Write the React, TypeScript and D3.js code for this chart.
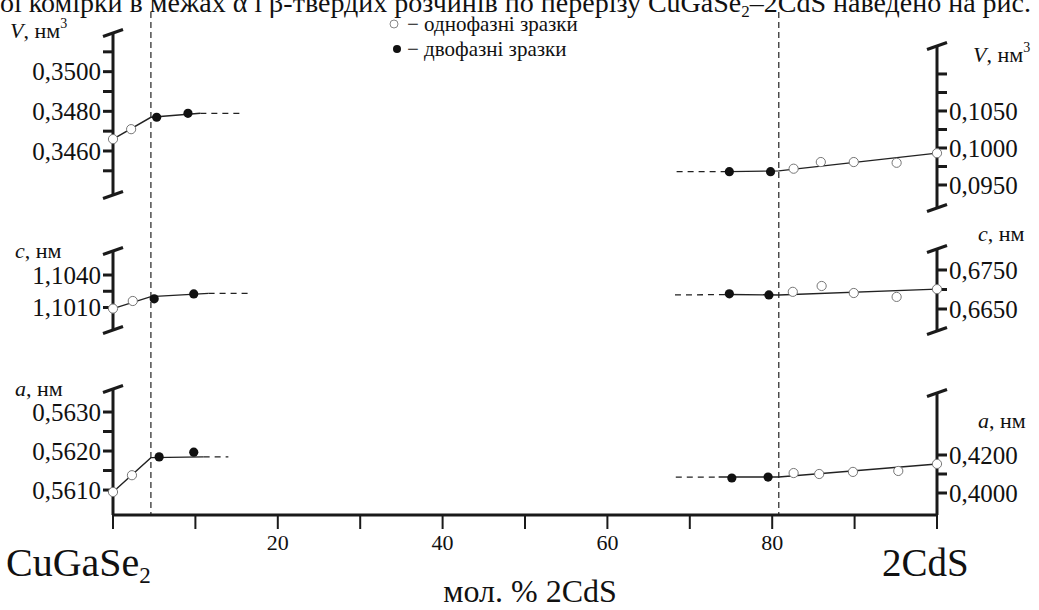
import React from 'react';
import * as d3 from 'd3';

const W = 1039;
const H = 610;

// mol. % 2CdS axis
const molTicks = [0, 10, 20, 30, 40, 50, 60, 70, 80, 90, 100];
const molLabels = [20, 40, 60, 80];
const phaseBounds = [4.6, 80.8];

// V, nm3 - CuGaSe2 side
const vLeftTicks = [0.345, 0.346, 0.347, 0.348, 0.349, 0.35, 0.351];
const vLeftLabels = [0.346, 0.348, 0.35];
const vLeftOneX = [0, 2.2];
const vLeftOneV = [0.3466, 0.3471];
const vLeftTwoX = [5.3, 9.1];
const vLeftTwoV = [0.3477, 0.3479];
const vLeftLineX = [0, 4.6, 10.6];
const vLeftLineV = [0.3466, 0.3477, 0.3479];
const vLeftDashX = [10.6, 15.4];
const vLeftDashV = [0.3479, 0.3479];

// V, nm3 - 2CdS side
const vRightTicks = [0.095, 0.0975, 0.1, 0.1025, 0.105, 0.1075, 0.11];
const vRightLabels = [0.095, 0.1, 0.105];
const vRightOneX = [82.6, 85.9, 89.9, 95.1, 100];
const vRightOneV = [0.0972, 0.0981, 0.0981, 0.098, 0.0993];
const vRightTwoX = [74.8, 79.8];
const vRightTwoV = [0.0968, 0.0968];
const vRightLineX = [74.8, 80.8, 100];
const vRightLineV = [0.0968, 0.0969, 0.0993];
const vRightDashX = [68.4, 74.8];
const vRightDashV = [0.0968, 0.0968];

// c, nm - CuGaSe2 side
const cLeftTicks = [1.101, 1.1025, 1.104];
const cLeftLabels = [1.101, 1.104];
const cLeftOneX = [0, 2.4];
const cLeftOneV = [1.1009, 1.1016];
const cLeftTwoX = [5.0, 9.8];
const cLeftTwoV = [1.1018, 1.10225];
const cLeftLineX = [0, 4.6, 11.6];
const cLeftLineV = [1.1009, 1.102, 1.1023];
const cLeftDashX = [11.6, 16.4];
const cLeftDashV = [1.1023, 1.1023];

// c, nm - 2CdS side
const cRightTicks = [0.665, 0.67, 0.675];
const cRightLabels = [0.665, 0.675];
const cRightOneX = [82.5, 86.0, 89.9, 95.1, 100];
const cRightOneV = [0.6694, 0.6709, 0.6691, 0.6681, 0.6701];
const cRightTwoX = [74.8, 79.6];
const cRightTwoV = [0.6689, 0.6686];
const cRightLineX = [74.8, 80.8, 100];
const cRightLineV = [0.6687, 0.6686, 0.6701];
const cRightDashX = [68.2, 74.8];
const cRightDashV = [0.6686, 0.6687];

// a, nm - CuGaSe2 side
const aLeftTicks = [0.561, 0.5615, 0.562, 0.5625, 0.563];
const aLeftLabels = [0.561, 0.562, 0.563];
const aLeftOneX = [0, 2.3];
const aLeftOneV = [0.56095, 0.56138];
const aLeftTwoX = [5.6, 9.8];
const aLeftTwoV = [0.56185, 0.56197];
const aLeftLineX = [0, 4.6, 11];
const aLeftLineV = [0.56095, 0.56183, 0.56185];
const aLeftDashX = [11, 14];
const aLeftDashV = [0.56185, 0.56185];

// a, nm - 2CdS side
const aRightTicks = [0.4, 0.41, 0.42];
const aRightLabels = [0.4, 0.42];
const aRightOneX = [82.6, 85.7, 89.8, 95.3, 100];
const aRightOneV = [0.4105, 0.41, 0.4111, 0.4116, 0.4153];
const aRightTwoX = [75.1, 79.5];
const aRightTwoV = [0.4079, 0.4084];
const aRightLineX = [73.5, 80.8, 100];
const aRightLineV = [0.4084, 0.4084, 0.4153];
const aRightDashX = [68.3, 73.5];
const aRightDashV = [0.4084, 0.4084];

const x = d3.scaleLinear().domain([0, 100]).range([113, 937]);
const axisY = 515;
const FONT = '"Liberation Serif", "Times New Roman", serif';

const zip = (xs: number[], vs: number[]) => xs.map((d, i) => [d, vs[i]] as [number, number]);
const fmt = (d: number) => d3.format('.4f')(d).replace('.', ',');

const panels = [
  { side: 'left', domain: [0.34378, 0.35195], range: [195, 33], ticks: vLeftTicks, labels: vLeftLabels,
    one: zip(vLeftOneX, vLeftOneV), two: zip(vLeftTwoX, vLeftTwoV), line: zip(vLeftLineX, vLeftLineV), dash: zip(vLeftDashX, vLeftDashV),
    sym: 'V', sup: '3', lx: 10, ly: 38, bottomCap: true },
  { side: 'right', domain: [0.09189, 0.11378], range: [208, 46], ticks: vRightTicks, labels: vRightLabels,
    one: zip(vRightOneX, vRightOneV), two: zip(vRightTwoX, vRightTwoV), line: zip(vRightLineX, vRightLineV), dash: zip(vRightDashX, vRightDashV),
    sym: 'V', sup: '3', lx: 973, ly: 62, bottomCap: true },
  { side: 'left', domain: [1.09892, 1.10622], range: [330, 251], ticks: cLeftTicks, labels: cLeftLabels,
    one: zip(cLeftOneX, cLeftOneV), two: zip(cLeftTwoX, cLeftTwoV), line: zip(cLeftLineX, cLeftLineV), dash: zip(cLeftDashX, cLeftDashV),
    sym: 'c', sup: '', lx: 15, ly: 258, bottomCap: true },
  { side: 'right', domain: [0.65936, 0.68038], range: [331, 249], ticks: cRightTicks, labels: cRightLabels,
    one: zip(cRightOneX, cRightOneV), two: zip(cRightTwoX, cRightTwoV), line: zip(cRightLineX, cRightLineV), dash: zip(cRightDashX, cRightDashV),
    sym: 'c', sup: '', lx: 978, ly: 241, bottomCap: true },
  { side: 'left', domain: [0.56036, 0.56359], range: [515, 389], ticks: aLeftTicks, labels: aLeftLabels,
    one: zip(aLeftOneX, aLeftOneV), two: zip(aLeftTwoX, aLeftTwoV), line: zip(aLeftLineX, aLeftLineV), dash: zip(aLeftDashX, aLeftDashV),
    sym: 'a', sup: '', lx: 15, ly: 396, bottomCap: false },
  { side: 'right', domain: [0.38842, 0.45263], range: [515, 393], ticks: aRightTicks, labels: aRightLabels,
    one: zip(aRightOneX, aRightOneV), two: zip(aRightTwoX, aRightTwoV), line: zip(aRightLineX, aRightLineV), dash: zip(aRightDashX, aRightDashV),
    sym: 'a', sup: '', lx: 978, ly: 428, bottomCap: false },
];

function Panel({ p }: { p: any }) {
  const y = d3.scaleLinear().domain(p.domain).range(p.range);
  const left = p.side === 'left';
  const ax = x(left ? 0 : 100);
  const dir = left ? -1 : 1;
  const path = d3.line<[number, number]>().x(d => x(d[0])).y(d => y(d[1]));
  const yTop = y(p.domain[1]);
  const yBot = y(p.domain[0]);
  return (
    <g>
      <line x1={ax} x2={ax} y1={yTop} y2={yBot} stroke="#1a1a1a" strokeWidth={3} />
      <line x1={ax - 10} y1={yTop + 3.5} x2={ax + 10} y2={yTop - 3.5} stroke="#1a1a1a" strokeWidth={3} />
      {p.bottomCap && (
        <line x1={ax - 10} y1={yBot + 3.5} x2={ax + 10} y2={yBot - 3.5} stroke="#1a1a1a" strokeWidth={3} />
      )}
      {p.ticks.map((t: number) => (
        <line key={t} x1={ax} x2={ax + dir * 10} y1={y(t)} y2={y(t)} stroke="#1a1a1a" strokeWidth={3} />
      ))}
      {p.labels.map((t: number) => (
        <text key={t} x={ax + dir * 12} y={y(t)} dy="0.35em" textAnchor={left ? 'end' : 'start'}
          fontSize={25} fill="#111">{fmt(t)}</text>
      ))}
      <text x={p.lx} y={p.ly} fontSize={22} fill="#111">
        <tspan fontStyle="italic">{p.sym}</tspan>
        <tspan>, нм</tspan>
        {p.sup && <tspan fontSize={14} dy={-10}>{p.sup}</tspan>}
      </text>
      <path d={path(p.dash) || ''} fill="none" stroke="#222" strokeWidth={1.3} strokeDasharray="6,5" />
      <path d={path(p.line) || ''} fill="none" stroke="#222" strokeWidth={1.4} />
      {p.two.map((d: [number, number], i: number) => (
        <circle key={'t' + i} cx={x(d[0])} cy={y(d[1])} r={4.6} fill="#111" />
      ))}
      {p.one.map((d: [number, number], i: number) => (
        <circle key={'o' + i} cx={x(d[0])} cy={y(d[1])} r={4.6} fill="#fff" stroke="#777" strokeWidth={1} />
      ))}
    </g>
  );
}

export default function App() {
  return (
    <svg width={W} height={H} style={{ position: 'absolute', left: 0, top: 0, background: '#fff' }}
      fontFamily={FONT}>
      <text x={0} y={12} fontSize={28} fill="#111">
        ої комірки в межах α і β-твердих розчинів по перерізу CuGaSe
        <tspan fontSize={17} dy={5}>2</tspan>
        <tspan dy={-5}>–2CdS наведено на рис.</tspan>
      </text>

      {phaseBounds.map(b => (
        <line key={b} x1={x(b)} x2={x(b)} y1={12} y2={axisY} stroke="#222" strokeWidth={1.2} strokeDasharray="6,4" />
      ))}

      {panels.map((p, i) => <Panel key={i} p={p} />)}

      <line x1={x(0)} x2={x(100)} y1={axisY} y2={axisY} stroke="#1a1a1a" strokeWidth={3} />
      {molTicks.map(t => (
        <line key={t} x1={x(t)} x2={x(t)} y1={axisY} y2={axisY + 14} stroke="#1a1a1a" strokeWidth={2} />
      ))}
      {molLabels.map(t => (
        <text key={t} x={x(t)} y={550} textAnchor="middle" fontSize={22} fill="#111">{t}</text>
      ))}
      <text x={6} y={576} fontSize={40} fill="#111">
        CuGaSe<tspan fontSize={23} dy={7}>2</tspan>
      </text>
      <text x={882} y={576} fontSize={39} fill="#111">2CdS</text>
      <text x={530} y={602} textAnchor="middle" fontSize={32} fill="#111">мол. % 2CdS</text>

      <circle cx={394} cy={24} r={4} fill="#fff" stroke="#888" strokeWidth={1} />
      <text x={407} y={31} fontSize={21} fill="#111">− однофазні зразки</text>
      <circle cx={397} cy={49} r={4} fill="#111" />
      <text x={407} y={56} fontSize={21} fill="#111">− двофазні зразки</text>
    </svg>
  );
}
